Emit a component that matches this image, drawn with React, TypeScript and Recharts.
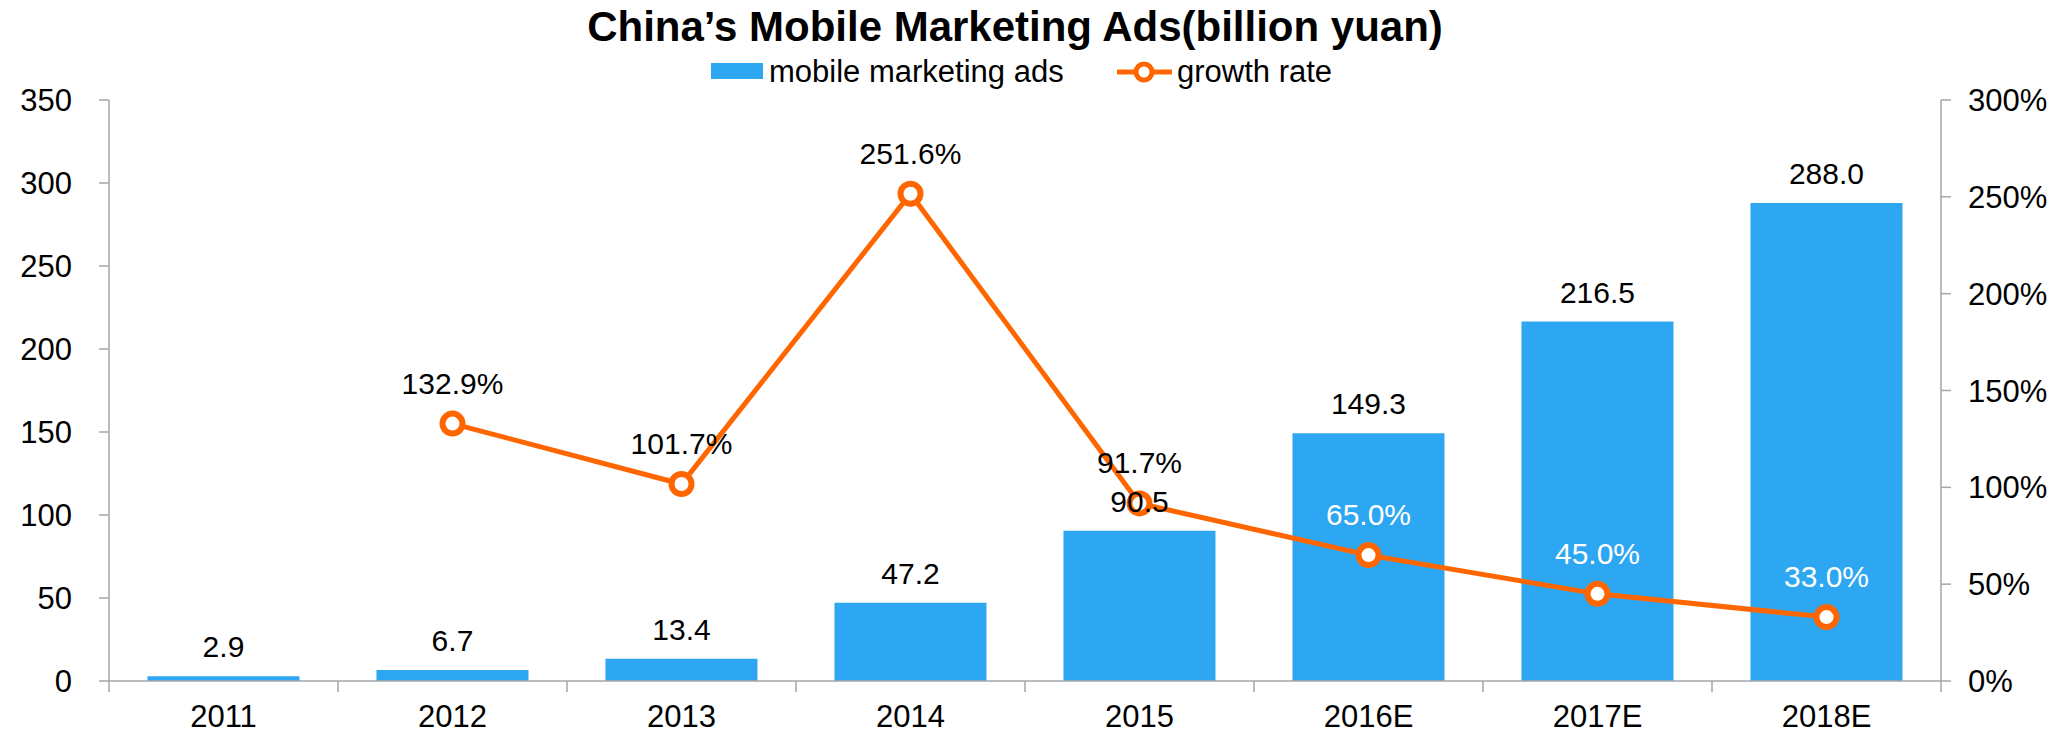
import React from "react";
import {
  ComposedChart, Bar, Line, XAxis, YAxis, LabelList
} from "recharts";

// China mobile marketing ads, billion yuan + yoy growth (%)
const CATEGORIES = ["2011", "2012", "2013", "2014", "2015", "2016E", "2017E", "2018E"];
const ADS = [2.9, 6.7, 13.4, 47.2, 90.5, 149.3, 216.5, 288.0];
const GROWTH: (number | null)[] = [null, 132.9, 101.7, 251.6, 91.7, 65.0, 45.0, 33.0];

const LEFT_TICKS = [0, 50, 100, 150, 200, 250, 300, 350];
const RIGHT_TICKS = [0, 50, 100, 150, 200, 250, 300];

const TITLE = "China\u2019s Mobile Marketing Ads(billion yuan)";
const LEGEND_BAR = "mobile marketing ads";
const LEGEND_LINE = "growth rate";

const W = 2071;
const H = 735;
const BLUE = "#2EA7F2";
const ORANGE = "#FF6600";
const AXIS = "#A6A6A6";
const FONT = "'Liberation Sans', Arial, sans-serif";

const LEFT_W = 109;
const RIGHT_W = 130;
const BAND = (W - LEFT_W - RIGHT_W) / CATEGORIES.length;

const data = CATEGORIES.map((year, i) => ({
  year,
  ads: ADS[i],
  growth: GROWTH[i],
}));

function XTick(props: any) {
  const { x, y, payload, index } = props;
  const half = payload?.offset ? payload.offset : BAND / 2;
  const last = index === CATEGORIES.length - 1;
  return (
    <g>
      <line x1={x - half} x2={x - half} y1={y} y2={y + 11} stroke={AXIS} strokeWidth={1.5} />
      {last && <line x1={x + half} x2={x + half} y1={y} y2={y + 11} stroke={AXIS} strokeWidth={1.5} />}
      <text x={x} y={y + 46} textAnchor="middle" fontSize={31} fill="#000">
        {payload.value}
      </text>
    </g>
  );
}

function BarValue(props: any) {
  const { x, y, width, value } = props;
  if (value == null) return null;
  return (
    <text x={x + width / 2} y={y - 19} textAnchor="middle" fontSize={30} fill="#000">
      {Number(value).toFixed(1)}
    </text>
  );
}

function GrowthValue(props: any) {
  const { x, y, value, index } = props;
  if (value == null) return null;
  const white = index >= 5;
  return (
    <text x={x} y={y - 30} textAnchor="middle" fontSize={30} fill={white ? "#fff" : "#000"}>
      {Number(value).toFixed(1)}%
    </text>
  );
}

export default function App() {
  return (
    <div style={{ position: "relative", width: W, height: H, fontFamily: FONT, background: "#fff" }}>
      <style>{`body{margin:0;}`}</style>
      <ComposedChart
        width={W}
        height={H}
        data={data}
        margin={{ top: 100, right: 0, bottom: 0, left: 0 }}
        barCategoryGap="16.8%"
      >
        <XAxis
          dataKey="year"
          height={54}
          axisLine={{ stroke: AXIS, strokeWidth: 1.5 }}
          tickLine={false}
          tickSize={0}
          tickMargin={0}
          tick={<XTick />}
          interval={0}
        />
        <YAxis
          yAxisId="left"
          width={LEFT_W}
          domain={[0, 350]}
          ticks={LEFT_TICKS}
          interval={0}
          axisLine={{ stroke: AXIS, strokeWidth: 1.5 }}
          tickLine={{ stroke: AXIS, strokeWidth: 1.5 }}
          tickSize={10}
          tickMargin={27}
          tick={{ fontSize: 31, fill: "#000" }}
        />
        <YAxis
          yAxisId="right"
          orientation="right"
          width={RIGHT_W}
          domain={[0, 300]}
          ticks={RIGHT_TICKS}
          interval={0}
          axisLine={{ stroke: AXIS, strokeWidth: 1.5 }}
          tickLine={{ stroke: AXIS, strokeWidth: 1.5 }}
          tickSize={10}
          tickMargin={17}
          tick={{ fontSize: 31, fill: "#000" }}
          tickFormatter={(v) => `${v}%`}
        />
        <Bar yAxisId="left" dataKey="ads" fill={BLUE} isAnimationActive={false}>
          <LabelList dataKey="ads" content={<BarValue />} />
        </Bar>
        <Line
          yAxisId="right"
          type="linear"
          dataKey="growth"
          stroke={ORANGE}
          strokeWidth={5}
          dot={{ r: 10, fill: "#fff", stroke: ORANGE, strokeWidth: 6 }}
          activeDot={false}
          isAnimationActive={false}
        >
          <LabelList dataKey="growth" content={<GrowthValue />} />
        </Line>
      </ComposedChart>

      {/* title + legend overlay */}
      <svg
        width={W}
        height={100}
        style={{ position: "absolute", left: 0, top: 0, pointerEvents: "none" }}
      >
        <text x={1015} y={41} textAnchor="middle" fontSize={42} fontWeight="bold" fill="#000">
          {TITLE}
        </text>
        <rect x={711} y={63} width={52} height={16} fill={BLUE} />
        <text x={769} y={82} fontSize={31} fill="#000">{LEGEND_BAR}</text>
        <line x1={1117} x2={1172} y1={72} y2={72} stroke={ORANGE} strokeWidth={5} />
        <circle cx={1144} cy={72} r={8} fill="#fff" stroke={ORANGE} strokeWidth={5} />
        <text x={1177} y={82} fontSize={31} fill="#000">{LEGEND_LINE}</text>
      </svg>
    </div>
  );
}
